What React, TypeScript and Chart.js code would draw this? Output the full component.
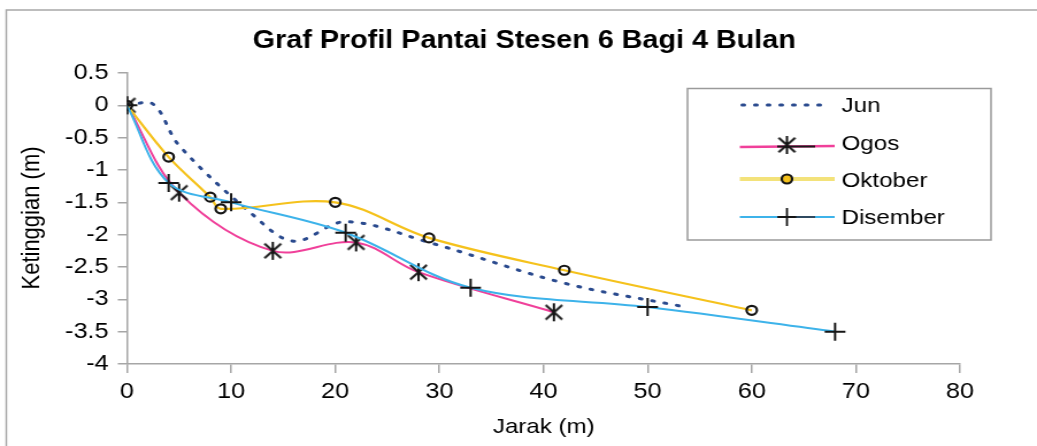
import React, { useEffect, useRef } from 'react';
import { Chart, registerables } from 'chart.js';

Chart.register(...registerables);

// ---- Texts ----
const chartTitle = 'Graf Profil Pantai Stesen 6 Bagi 4 Bulan';
const xAxisTitle = 'Jarak (m)';
const yAxisTitle = 'Ketinggian (m)';
const seriesNames = ['Jun', 'Ogos', 'Oktober', 'Disember'];

// ---- Tick values ----
const xTickValues = [0, 10, 20, 30, 40, 50, 60, 70, 80];
const yTickValues = [-4, -3.5, -3, -2.5, -2, -1.5, -1, -0.5, 0, 0.5];

// ---- Series data (Jarak m, Ketinggian m) ----
const junX = [0, 2.5, 5, 12, 16, 21, 29, 42, 53];
const junY = [0, 0.02, -0.62, -1.68, -2.1, -1.8, -2.12, -2.75, -3.1];

const ogosX = [0, 5, 14, 22, 28, 41];
const ogosY = [0, -1.35, -2.25, -2.12, -2.58, -3.2];

const oktoberX = [0, 4, 8, 9, 20, 29, 42, 60];
const oktoberY = [0, -0.8, -1.42, -1.6, -1.5, -2.05, -2.55, -3.17];

const disemberX = [0, 4, 10, 21, 33, 50, 68];
const disemberY = [0, -1.2, -1.5, -1.97, -2.82, -3.12, -3.5];

// ---- Layout constants ----
const OUT_W = 1037;
const H = 446;
const W = 902; // canvas drawn narrower, then stretched horizontally
const SX = OUT_W / W;
const FONT = "'Liberation Sans', Arial, Helvetica, sans-serif";
const TEXT = '#000000';

const toPts = (xs: number[], ys: number[]) => xs.map((x, i) => ({ x, y: ys[i] }));

function makeAsterisk(r: number, lw: number, color: string): HTMLCanvasElement {
  const s = Math.ceil(2 * r + lw * 2);
  const c = document.createElement('canvas');
  c.width = s;
  c.height = s;
  const g = c.getContext('2d')!;
  const m = s / 2;
  g.strokeStyle = color;
  g.lineWidth = lw;
  g.beginPath();
  g.moveTo(m, m - r);
  g.lineTo(m, m + r);
  const d = r * 0.8;
  g.moveTo(m - d, m - d);
  g.lineTo(m + d, m + d);
  g.moveTo(m + d, m - d);
  g.lineTo(m - d, m + d);
  g.stroke();
  return c;
}

export default function App() {
  const ref = useRef<HTMLCanvasElement | null>(null);

  useEffect(() => {
    const canvas = ref.current;
    if (!canvas) return;
    const asterisk = makeAsterisk(9, 2, '#151515');

    const colors = {
      jun: '#2a4a8e',
      ogos: '#f0409a',
      oktober: '#f5c21c',
      disember: '#3db3ea',
    };

    const customPlugin = {
      id: 'customDecor',
      beforeDraw(chart: any) {
        const ctx = chart.ctx;
        ctx.save();
        ctx.fillStyle = '#ffffff';
        ctx.fillRect(0, 0, W, H);
        ctx.restore();
      },
      afterDraw(chart: any) {
        const ctx = chart.ctx as CanvasRenderingContext2D;
        ctx.save();
        // outer frame
        ctx.strokeStyle = '#a8a8a8';
        ctx.lineWidth = 1.5;
        ctx.strokeRect(5.5, 10, W + 20, H + 20);

        // title
        ctx.fillStyle = TEXT;
        ctx.textAlign = 'center';
        ctx.textBaseline = 'alphabetic';
        ctx.font = `bold 25px ${FONT}`;
        ctx.fillText(chartTitle, 456, 48);

        // x title
        ctx.font = `21px ${FONT}`;
        ctx.fillText(xAxisTitle, 473, 433);

        // y title
        ctx.save();
        ctx.translate(34, 218);
        ctx.rotate(-Math.PI / 2);
        ctx.font = `22px ${FONT}`;
        ctx.fillText(yAxisTitle, 0, 0);
        ctx.restore();

        // legend box
        const lx = 598, lt = 88.5, lr = 862, lb = 240;
        ctx.strokeStyle = '#9a9a9a';
        ctx.lineWidth = 1.5;
        ctx.strokeRect(lx, lt, lr - lx, lb - lt);

        const x0 = 643.5, x1 = 726, mx = 684.5, sx0 = 676, sx1 = 709;
        const textX = 732;
        ctx.textAlign = 'left';
        ctx.font = `21px ${FONT}`;

        // Jun
        ctx.strokeStyle = colors.jun;
        ctx.lineWidth = 3;
        ctx.lineCap = 'round';
        ctx.setLineDash([2, 9]);
        ctx.beginPath();
        ctx.moveTo(x0 + 2, 105);
        ctx.lineTo(722, 105);
        ctx.stroke();
        ctx.setLineDash([]);
        ctx.lineCap = 'butt';
        ctx.fillStyle = TEXT;
        ctx.fillText(seriesNames[0], textX, 112);

        // Ogos
        ctx.strokeStyle = colors.ogos;
        ctx.lineWidth = 2.5;
        ctx.beginPath();
        ctx.moveTo(x0, 147);
        ctx.lineTo(x1, 146);
        ctx.stroke();
        ctx.strokeStyle = '#1a1a1a';
        ctx.lineWidth = 2;
        ctx.beginPath();
        ctx.moveTo(sx0, 146.5);
        ctx.lineTo(sx1, 146.5);
        ctx.stroke();
        ctx.drawImage(asterisk, mx - asterisk.width / 2, 145 - asterisk.height / 2);
        ctx.fillText(seriesNames[1], textX, 150);

        // Oktober
        ctx.strokeStyle = '#f3e27a';
        ctx.lineWidth = 4;
        ctx.beginPath();
        ctx.moveTo(x0, 179);
        ctx.lineTo(x1, 179);
        ctx.stroke();
        ctx.beginPath();
        ctx.arc(mx, 179, 4.5, 0, Math.PI * 2);
        ctx.fillStyle = colors.oktober;
        ctx.fill();
        ctx.strokeStyle = '#151515';
        ctx.lineWidth = 2.2;
        ctx.stroke();
        ctx.fillStyle = TEXT;
        ctx.fillText(seriesNames[2], textX, 187);

        // Disember
        ctx.strokeStyle = colors.disember;
        ctx.lineWidth = 2;
        ctx.beginPath();
        ctx.moveTo(x0, 217);
        ctx.lineTo(x1, 217);
        ctx.stroke();
        ctx.strokeStyle = '#2f4a60';
        ctx.beginPath();
        ctx.moveTo(sx0, 217);
        ctx.lineTo(sx1, 217);
        ctx.stroke();
        ctx.strokeStyle = '#151515';
        ctx.lineWidth = 1.8;
        ctx.beginPath();
        ctx.moveTo(mx, 208);
        ctx.lineTo(mx, 226);
        ctx.moveTo(mx - 8, 217);
        ctx.lineTo(mx + 8, 217);
        ctx.stroke();
        ctx.fillText(seriesNames[3], textX, 224);

        ctx.restore();
      },
    };

    const chart = new Chart(canvas, {
      type: 'line',
      data: {
        datasets: [
          {
            label: seriesNames[0],
            data: toPts(junX, junY),
            borderColor: colors.jun,
            borderWidth: 3,
            borderDash: [2, 9],
            borderCapStyle: 'round',
            pointRadius: 0,
            tension: 0.35,
            fill: false,
            order: 4,
          },
          {
            label: seriesNames[1],
            data: toPts(ogosX, ogosY),
            borderColor: colors.ogos,
            borderWidth: 2,
            pointStyle: asterisk as any,
            pointRadius: 9,
            tension: 0.35,
            fill: false,
            order: 3,
          },
          {
            label: seriesNames[2],
            data: toPts(oktoberX, oktoberY),
            borderColor: colors.oktober,
            borderWidth: 2.2,
            pointStyle: 'circle',
            pointRadius: 4.5,
            pointBorderColor: '#151515',
            pointBorderWidth: 2.2,
            pointBackgroundColor: 'rgba(255,255,255,0)',
            tension: 0.35,
            fill: false,
            order: 2,
          },
          {
            label: seriesNames[3],
            data: toPts(disemberX, disemberY),
            borderColor: colors.disember,
            borderWidth: 2,
            pointStyle: 'cross',
            pointRadius: 9,
            pointBorderColor: '#151515',
            pointBorderWidth: 2,
            tension: 0.35,
            fill: false,
            order: 1,
          },
        ],
      },
      options: {
        animation: false,
        responsive: false,
        devicePixelRatio: 1,
        layout: { padding: { top: 73, right: W - 960 / SX, left: 0, bottom: 0 } },
        plugins: {
          legend: { display: false },
          title: { display: false },
          tooltip: { enabled: false },
        },
        scales: {
          x: {
            type: 'linear',
            min: 0,
            max: 80,
            afterBuildTicks: (s: any) => {
              s.ticks = xTickValues.map((v) => ({ value: v }));
            },
            afterFit: (s: any) => {
              s.height = H - 364;
            },
            border: { display: true, color: '#a6a6a6', width: 1.5 },
            grid: {
              display: true,
              drawOnChartArea: false,
              drawTicks: true,
              tickLength: 9,
              color: '#a6a6a6',
              lineWidth: 1.5,
            },
            ticks: {
              color: TEXT,
              font: { family: FONT, size: 22 },
              padding: 6,
              maxRotation: 0,
              autoSkip: false,
              callback: (v: any) => String(v),
            },
          },
          y: {
            type: 'linear',
            min: -4,
            max: 0.5,
            afterBuildTicks: (s: any) => {
              s.ticks = yTickValues.map((v) => ({ value: v }));
            },
            afterFit: (s: any) => {
              s.width = 127 / SX;
            },
            border: { display: true, color: '#a6a6a6', width: 1.5 },
            grid: {
              display: true,
              drawOnChartArea: false,
              drawTicks: true,
              tickLength: 8,
              color: '#a6a6a6',
              lineWidth: 1.5,
            },
            ticks: {
              color: TEXT,
              font: { family: FONT, size: 22 },
              padding: 8,
              autoSkip: false,
              callback: (v: any) => String(v),
            },
          },
        },
      } as any,
      plugins: [customPlugin],
    });

    return () => chart.destroy();
  }, []);

  return (
    <div
      style={{
        position: 'absolute',
        left: 0,
        top: 0,
        width: OUT_W,
        height: H,
        overflow: 'hidden',
        background: '#ffffff',
      }}
    >
      <div style={{ width: W, height: H, transform: `scaleX(${SX})`, transformOrigin: '0 0' }}>
        <canvas ref={ref} width={W} height={H} style={{ width: W, height: H, display: 'block' }} />
      </div>
    </div>
  );
}
